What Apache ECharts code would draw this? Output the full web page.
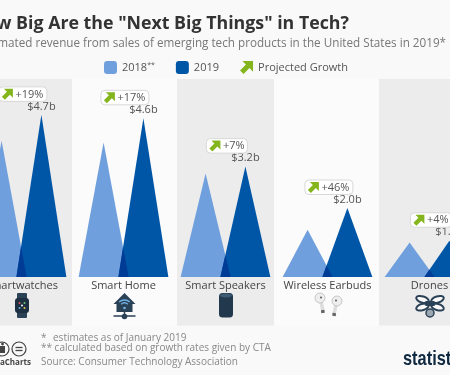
<!DOCTYPE html>
<html>
<head>
<meta charset="utf-8">
<title>How Big Are the "Next Big Things" in Tech?</title>
<script src="https://cdn.jsdelivr.net/npm/echarts@6/dist/echarts.min.js"></script>
<style>
  html, body { margin: 0; padding: 0; background: #f9f9f9; overflow: hidden; }
  #chart { width: 450px; height: 375px; }
</style>
</head>
<body>
<div id="chart"></div>
<script>
const categories = ['Smartwatches', 'Smart Home', 'Smart Speakers', 'Wireless Earbuds', 'Drones']
const values2018 = [3.95, 3.9, 3.0, 1.37, 1.0]
const values2019 = [4.7, 4.6, 3.2, 2.0, 1.05]
const growth = ['+19%', '+17%', '+7%', '+46%', '+4%']

const FONT = '"Open Sans", sans-serif'
const LIGHT = '#6f9fdc'
const DARK = '#0056a6'
const OVERLAP = '#003b96'
const GREEN = '#84b51c'
const INK = '#2b4156'
const ARROW = [[2, 0], [11, 0], [11, 9], [8, 6], [3, 11], [0, 8], [5, 3]]
const arrowPath = 'M2 0L11 0L11 9L8 6L3 11L0 8L5 3Z'

// triangle geometry relative to category width
const OFFSET = 0.195
const HALF = 0.245

// category axis rounds fractional indexes, so shift in pixels from the band centre
const apexOf = (api, i, value, side) => {
  const p = api.coord([i, value])
  return [p[0] + side * OFFSET * api.size([1, 0])[0], p[1]]
}

const triangle = (side, color) => (params, api) => {
  const i = api.value(0)
  const apex = apexOf(api, i, api.value(1), side)
  const y0 = api.coord([i, 0])[1]
  const hw = api.size([1, 0])[0] * HALF
  return {
    type: 'polygon',
    shape: { points: [[apex[0], apex[1]], [apex[0] + hw, y0], [apex[0] - hw, y0]] },
    style: { fill: color }
  }
}

// the strip where both triangles cross is darker
const renderOverlap = (params, api) => {
  const i = api.value(0)
  const light = apexOf(api, i, api.value(1), -1)
  const dark = apexOf(api, i, api.value(2), 1)
  const y0 = api.coord([i, 0])[1]
  const hw = api.size([1, 0])[0] * HALF
  const right = light[0] + hw
  const left = dark[0] - hw
  const a = hw / (y0 - light[1])
  const b = hw / (y0 - dark[1])
  const h = (right - left) / (a + b)
  return {
    type: 'polygon',
    shape: { points: [[left, y0], [right, y0], [left + b * h, y0 - h]] },
    style: { fill: OVERLAP }
  }
}

const renderLabels = (params, api) => {
  const i = api.value(0)
  const pos = apexOf(api, i, api.value(1), 1)
  const text = growth[i]
  const w = 20 + 7 * text.length
  const cx = pos[0] - 18.5
  const top = pos[1] - 27
  const left = cx - w / 2
  return {
    type: 'group',
    children: [
      {
        type: 'text',
        style: {
          x: pos[0], y: pos[1] - 8.5,
          text: '$' + api.value(1).toFixed(1) + 'b',
          font: '11px ' + FONT, fill: '#555', align: 'center', verticalAlign: 'middle'
        }
      },
      {
        type: 'rect',
        shape: { x: left, y: top - 1, width: w, height: 14.5, r: 4 },
        style: { fill: '#fff', stroke: '#d8d8d8', lineWidth: 1 }
      },
      {
        type: 'polygon',
        x: left + 3, y: top + 1,
        shape: { points: ARROW },
        style: { fill: GREEN }
      },
      {
        type: 'text',
        style: {
          x: left + 16.5, y: top + 6.5,
          text: text,
          font: '11px ' + FONT, fill: '#555', align: 'left', verticalAlign: 'middle'
        }
      }
    ]
  }
}

const ellipse = (x, y, rot) => ({
  type: 'ellipse',
  x: x, y: y, rotation: rot,
  shape: { cx: 0, cy: 0, rx: 6.5, ry: 3.2 },
  style: { fill: 'rgba(255,255,255,0.7)', stroke: INK, lineWidth: 2 }
})

const bud = (x, y, sx) => [
  { type: 'line', shape: { x1: x + sx, y1: y + 3, x2: x + sx * 3, y2: y + 14 }, style: { stroke: '#ddd', lineWidth: 3.5 } },
  { type: 'line', shape: { x1: x + sx * 2.7, y1: y + 12, x2: x + sx * 3, y2: y + 15 }, style: { stroke: '#666', lineWidth: 3.5 } },
  { type: 'circle', shape: { cx: x, cy: y, r: 5 }, style: { fill: '#eee', stroke: '#bbb', lineWidth: 0.8 } },
  { type: 'circle', shape: { cx: x + sx, cy: y - 0.5, r: 1 }, style: { fill: '#555' } }
]

// small product pictograms under each category name, relative to the category centre
const iconParts = [
  c => [
    { type: 'rect', shape: { x: c - 4.5, y: 293, width: 10, height: 25, r: 1 }, style: { fill: INK } },
    { type: 'rect', shape: { x: c - 6.5, y: 298, width: 14, height: 15, r: 3 }, style: { fill: '#1d3042' } },
    { type: 'circle', shape: { cx: c - 2, cy: 303, r: 1 }, style: { fill: '#e05a5a' } },
    { type: 'circle', shape: { cx: c + 3, cy: 303, r: 1 }, style: { fill: '#6fc36f' } },
    { type: 'circle', shape: { cx: c - 2, cy: 308, r: 1 }, style: { fill: '#5fa8e0' } },
    { type: 'circle', shape: { cx: c + 3, cy: 308, r: 1 }, style: { fill: '#e8c84f' } },
    { type: 'circle', shape: { cx: c + 0.5, cy: 305.5, r: 1 }, style: { fill: '#fff' } }
  ],
  c => [
    { type: 'polygon', shape: { points: [[c + 1, 293], [c + 12, 304], [c + 9, 304], [c + 9, 312], [c - 7, 312], [c - 7, 304], [c - 10, 304]] }, style: { fill: INK } },
    { type: 'arc', shape: { cx: c + 1, cy: 308, r: 8, startAngle: -2.3, endAngle: -0.85 }, style: { fill: 'none', stroke: '#6fb0e6', lineWidth: 1.3 } },
    { type: 'arc', shape: { cx: c + 1, cy: 308, r: 5, startAngle: -2.3, endAngle: -0.85 }, style: { fill: 'none', stroke: '#6fb0e6', lineWidth: 1.3 } },
    { type: 'circle', shape: { cx: c + 1, cy: 308, r: 1.3 }, style: { fill: '#6fb0e6' } },
    { type: 'line', shape: { x1: c + 1, y1: 312, x2: c + 1, y2: 316 }, style: { stroke: INK, lineWidth: 1.5 } },
    { type: 'line', shape: { x1: c - 10, y1: 316, x2: c + 12, y2: 316 }, style: { stroke: INK, lineWidth: 1.5 } },
    { type: 'circle', shape: { cx: c + 1, cy: 316.5, r: 2.8 }, style: { fill: INK } }
  ],
  c => [
    { type: 'rect', shape: { x: c - 6.5, y: 293, width: 14, height: 24.5, r: 3.5 }, style: { fill: '#22394d' } },
    { type: 'ellipse', shape: { cx: c + 0.5, cy: 295.5, rx: 6, ry: 2 }, style: { fill: '#3d5a73' } }
  ],
  c => bud(c - 7.5, 298, 1).concat(bud(c + 9.5, 301, -1)),
  c => [
    ellipse(c - 7, 299.5, -0.3),
    ellipse(c + 8, 299.5, 0.3),
    ellipse(c - 7, 307, 0.3),
    ellipse(c + 8, 307, -0.3),
    { type: 'rect', shape: { x: c - 5, y: 301, width: 11, height: 5, r: 2 }, style: { fill: INK } },
    { type: 'circle', shape: { cx: c + 0.5, cy: 313, r: 4 }, style: { fill: '#9aa6b0', stroke: INK, lineWidth: 1.5 } }
  ]
]

const renderIcon = (params, api) => {
  const i = api.value(0)
  const c = api.coord([i, 0])[0]
  return { type: 'group', children: iconParts[i](c) }
}

const chart = echarts.init(document.getElementById('chart'))

chart.setOption({
  backgroundColor: '#f9f9f9',
  animation: false,
  title: [
    {
      text: 'How Big Are the "Next Big Things" in Tech?',
      right: 96, top: 10,
      textStyle: { fontFamily: FONT, fontSize: 17.8, fontWeight: 'bold', color: '#333' }
    },
    {
      text: 'Estimated revenue from sales of emerging tech products in the United States in 2019*',
      right: -1, top: 33,
      textStyle: { fontFamily: FONT, fontSize: 11.7, fontWeight: 'normal', color: '#777' }
    }
  ],
  legend: {
    left: 99, top: 56,
    itemWidth: 13, itemHeight: 13, itemGap: 21,
    selectedMode: false,
    data: [
      { name: '2018', icon: 'roundRect' },
      { name: '2019', icon: 'roundRect' },
      { name: 'Projected Growth', icon: 'path://' + arrowPath }
    ],
    formatter: name => (name === '2018' ? '2018{sup|**}' : name),
    textStyle: {
      fontFamily: FONT, fontSize: 11, color: '#555',
      rich: { sup: { fontFamily: FONT, fontSize: 7, color: '#555', verticalAlign: 'top', padding: [0, 0, 5, 0] } }
    }
  },
  // the picture is a crop, the plot runs past both edges of the canvas
  grid: { left: -29.5, top: 79, width: 510, height: 198, outerBoundsMode: 'none' },
  xAxis: {
    type: 'category',
    data: categories,
    axisLine: { show: false },
    axisTick: { show: false },
    axisLabel: { interval: 0, margin: 3, fontFamily: FONT, fontSize: 11, color: '#444', hideOverlap: false }
  },
  yAxis: { type: 'value', min: 0, max: 5.74, show: false },
  graphic: [
    // background stripes
    { type: 'rect', z: -1, shape: { x: -25, y: 79, width: 97, height: 246.5 }, style: { fill: '#ececec' } },
    { type: 'rect', z: -1, shape: { x: 177, y: 79, width: 97, height: 246.5 }, style: { fill: '#ececec' } },
    { type: 'rect', z: -1, shape: { x: 379, y: 79, width: 97, height: 246.5 }, style: { fill: '#ececec' } },
    { type: 'rect', z: -1, shape: { x: 72, y: 79, width: 105, height: 246.5 }, style: { fill: '#fbfbfb' } },
    { type: 'rect', z: -1, shape: { x: 274, y: 79, width: 105, height: 246.5 }, style: { fill: '#fbfbfb' } },
    // notes
    { type: 'text', style: { x: 41, y: 338, text: '*', font: '10px ' + FONT, fill: '#888', verticalAlign: 'middle' } },
    { type: 'text', style: { x: 53, y: 338, text: 'estimates as of January 2019', font: '10px ' + FONT, fill: '#888', verticalAlign: 'middle' } },
    { type: 'text', style: { x: 41, y: 348.5, text: '** calculated based on growth rates given by CTA', font: '10px ' + FONT, fill: '#888', verticalAlign: 'middle' } },
    { type: 'text', style: { x: 41, y: 362.5, text: 'Source: Consumer Technology Association', font: '10px ' + FONT, fill: '#888', verticalAlign: 'middle' } },
    // licence badges and handle
    { type: 'circle', shape: { cx: 2, cy: 349, r: 7 }, style: { fill: 'none', stroke: '#444', lineWidth: 1.2 } },
    { type: 'rect', shape: { x: 0, y: 346, width: 5, height: 7 }, style: { fill: '#444' } },
    { type: 'circle', shape: { cx: 2.5, cy: 344, r: 1.4 }, style: { fill: '#444' } },
    { type: 'circle', shape: { cx: 19, cy: 349, r: 7 }, style: { fill: 'none', stroke: '#444', lineWidth: 1.2 } },
    { type: 'line', shape: { x1: 15.5, y1: 347.5, x2: 22.5, y2: 347.5 }, style: { stroke: '#444', lineWidth: 1.3 } },
    { type: 'line', shape: { x1: 15.5, y1: 350.5, x2: 22.5, y2: 350.5 }, style: { stroke: '#444', lineWidth: 1.3 } },
    { type: 'text', style: { x: 31, y: 363, text: '@StatistaCharts', font: 'bold 8px ' + FONT, fill: '#444', align: 'right', verticalAlign: 'middle' } },
    // logo text, runs past the right edge
    {
      type: 'text', x: 403, y: 359.5, scaleX: 0.78,
      style: { x: 0, y: 0, text: 'statista', font: 'bold 21px "Liberation Sans", sans-serif', fill: '#0f2a40', verticalAlign: 'middle' }
    }
  ],
  series: [
    {
      name: '2018', type: 'custom', z: 2,
      itemStyle: { color: LIGHT },
      renderItem: triangle(-1, LIGHT),
      encode: { x: 0, y: 1 },
      data: values2018.map((v, i) => [i, v])
    },
    {
      name: '2019', type: 'custom', z: 3,
      itemStyle: { color: DARK },
      renderItem: triangle(1, DARK),
      encode: { x: 0, y: 1 },
      data: values2019.map((v, i) => [i, v])
    },
    {
      name: 'overlap', type: 'custom', z: 4,
      renderItem: renderOverlap,
      encode: { x: 0, y: 1 },
      data: values2018.map((v, i) => [i, v, values2019[i]])
    },
    {
      name: 'Projected Growth', type: 'custom', z: 5,
      itemStyle: { color: GREEN },
      renderItem: renderLabels,
      encode: { x: 0, y: 1 },
      data: values2019.map((v, i) => [i, v])
    },
    {
      name: 'icons', type: 'custom', z: 5, silent: true,
      renderItem: renderIcon,
      encode: { x: 0 },
      data: categories.map((c, i) => [i, 0])
    }
  ]
})

window.addEventListener('resize', () => chart.resize())
</script>
</body>
</html>
